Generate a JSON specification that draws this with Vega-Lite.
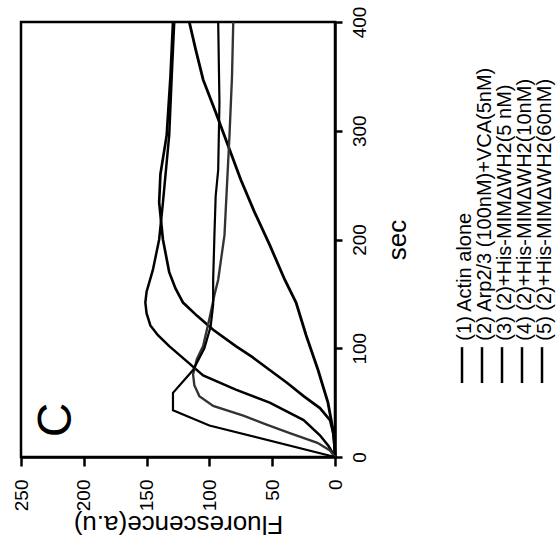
{
  "$schema": "https://vega.github.io/schema/vega-lite/v6.json",
  "padding": {"left": 10, "top": 4, "right": 4, "bottom": 8},
  "spacing": 40,
  "config": {
    "font": "Liberation Sans",
    "axis": {"grid": false, "domainColor": "black", "domainWidth": 2.5, "tickColor": "black", "tickWidth": 2.5, "labelColor": "black", "titleColor": "black", "labelFont": "Liberation Sans", "titleFont": "Liberation Sans", "titleFontWeight": "normal", "labelFontSize": 19, "titleFontSize": 26}
  },
  "datasets": {
    "curves": [
      {"id": 1, "sec": 0, "fl": 0}, {"id": 1, "sec": 10, "fl": 0.3}, {"id": 1, "sec": 25, "fl": 1.6}, {"id": 1, "sec": 50, "fl": 5.6}, {"id": 1, "sec": 80, "fl": 13.5}, {"id": 1, "sec": 112, "fl": 23}, {"id": 1, "sec": 142, "fl": 31}, {"id": 1, "sec": 163, "fl": 40}, {"id": 1, "sec": 195, "fl": 52}, {"id": 1, "sec": 225, "fl": 64}, {"id": 1, "sec": 255, "fl": 75}, {"id": 1, "sec": 286, "fl": 85}, {"id": 1, "sec": 317, "fl": 95}, {"id": 1, "sec": 347, "fl": 105}, {"id": 1, "sec": 375, "fl": 111}, {"id": 1, "sec": 400, "fl": 116},
      {"id": 2, "sec": 0, "fl": 0}, {"id": 2, "sec": 20, "fl": 1}, {"id": 2, "sec": 34, "fl": 4}, {"id": 2, "sec": 45, "fl": 12}, {"id": 2, "sec": 56, "fl": 25}, {"id": 2, "sec": 68, "fl": 38}, {"id": 2, "sec": 80, "fl": 52}, {"id": 2, "sec": 92, "fl": 66}, {"id": 2, "sec": 102, "fl": 79}, {"id": 2, "sec": 117, "fl": 97}, {"id": 2, "sec": 130, "fl": 110}, {"id": 2, "sec": 142, "fl": 121}, {"id": 2, "sec": 155, "fl": 127}, {"id": 2, "sec": 170, "fl": 132}, {"id": 2, "sec": 200, "fl": 137}, {"id": 2, "sec": 234, "fl": 140}, {"id": 2, "sec": 260, "fl": 139}, {"id": 2, "sec": 296, "fl": 134}, {"id": 2, "sec": 350, "fl": 131}, {"id": 2, "sec": 400, "fl": 129},
      {"id": 3, "sec": 0, "fl": 0}, {"id": 3, "sec": 10, "fl": 5}, {"id": 3, "sec": 20, "fl": 12}, {"id": 3, "sec": 34, "fl": 25}, {"id": 3, "sec": 50, "fl": 52}, {"id": 3, "sec": 62, "fl": 79}, {"id": 3, "sec": 75, "fl": 105}, {"id": 3, "sec": 90, "fl": 120}, {"id": 3, "sec": 102, "fl": 132}, {"id": 3, "sec": 112, "fl": 141}, {"id": 3, "sec": 121, "fl": 147}, {"id": 3, "sec": 132, "fl": 150}, {"id": 3, "sec": 142, "fl": 151}, {"id": 3, "sec": 152, "fl": 150}, {"id": 3, "sec": 172, "fl": 145}, {"id": 3, "sec": 200, "fl": 140}, {"id": 3, "sec": 234, "fl": 137}, {"id": 3, "sec": 296, "fl": 132}, {"id": 3, "sec": 350, "fl": 130}, {"id": 3, "sec": 400, "fl": 128},
      {"id": 4, "sec": 0, "fl": 0}, {"id": 4, "sec": 6, "fl": 4}, {"id": 4, "sec": 13, "fl": 14}, {"id": 4, "sec": 22, "fl": 36}, {"id": 4, "sec": 30, "fl": 55}, {"id": 4, "sec": 38, "fl": 73}, {"id": 4, "sec": 47, "fl": 97}, {"id": 4, "sec": 56, "fl": 108}, {"id": 4, "sec": 66, "fl": 112}, {"id": 4, "sec": 76, "fl": 113}, {"id": 4, "sec": 90, "fl": 110}, {"id": 4, "sec": 102, "fl": 105}, {"id": 4, "sec": 127, "fl": 100}, {"id": 4, "sec": 149, "fl": 96}, {"id": 4, "sec": 163, "fl": 93}, {"id": 4, "sec": 204, "fl": 88}, {"id": 4, "sec": 250, "fl": 86}, {"id": 4, "sec": 296, "fl": 84}, {"id": 4, "sec": 350, "fl": 82}, {"id": 4, "sec": 400, "fl": 81},
      {"id": 5, "sec": 0, "fl": 0}, {"id": 5, "sec": 29, "fl": 100}, {"id": 5, "sec": 43, "fl": 129}, {"id": 5, "sec": 59, "fl": 129}, {"id": 5, "sec": 80, "fl": 113}, {"id": 5, "sec": 100, "fl": 104}, {"id": 5, "sec": 120, "fl": 99}, {"id": 5, "sec": 140, "fl": 97}, {"id": 5, "sec": 163, "fl": 97}, {"id": 5, "sec": 204, "fl": 96}, {"id": 5, "sec": 240, "fl": 95}, {"id": 5, "sec": 264, "fl": 93}, {"id": 5, "sec": 326, "fl": 92}, {"id": 5, "sec": 400, "fl": 93}
    ],
    "series": [
      {"id": 1, "label": "(1) Actin alone"},
      {"id": 2, "label": "(2) Arp2/3 (100nM)+VCA(5nM)"},
      {"id": 3, "label": "(3) (2)+His-MIMΔWH2(5 nM)"},
      {"id": 4, "label": "(4) (2)+His-MIMΔWH2(10nM)"},
      {"id": 5, "label": "(5) (2)+His-MIMΔWH2(60nM)"}
    ],
    "panel": [{"tag": "C"}]
  },
  "hconcat": [
    {
      "width": 314,
      "height": 435,
      "view": {"stroke": "black", "strokeWidth": 2.5},
      "layer": [
        {
          "data": {"name": "curves"},
          "mark": {"type": "line", "interpolate": "linear"},
          "encoding": {
            "x": {"field": "fl", "type": "quantitative", "scale": {"domain": [0, 250], "reverse": true, "nice": false},
              "axis": {"orient": "bottom", "values": [0, 50, 100, 150, 200, 250], "labelAngle": -90, "labelAlign": "right", "labelBaseline": "middle", "tickSize": 9, "labelPadding": 13, "title": "Fluorescence(a.u)", "titleAngle": 180, "titleBaseline": "bottom", "titleAlign": "center", "titlePadding": 0}},
            "y": {"field": "sec", "type": "quantitative", "scale": {"domain": [0, 400], "nice": false},
              "axis": {"orient": "right", "values": [0, 100, 200, 300, 400], "labelAngle": -90, "labelAlign": "center", "labelBaseline": "top", "tickSize": 7, "labelPadding": 8, "title": "sec", "titleAngle": -90, "titleBaseline": "top", "titleAlign": "center", "titlePadding": 15}},
            "order": {"field": "sec"},
            "detail": {"field": "id"},
            "color": {"field": "id", "type": "ordinal", "scale": {"domain": [1, 2, 3, 4, 5], "range": ["#000000", "#000000", "#000000", "#333333", "#000000"]}, "legend": null},
            "strokeWidth": {"field": "id", "type": "ordinal", "scale": {"domain": [1, 2, 3, 4, 5], "range": [2.8, 2.2, 2.0, 1.6, 2.4]}, "legend": null}
          }
        },
        {
          "data": {"name": "panel"},
          "mark": {"type": "text", "angle": -90, "fontSize": 48, "font": "Liberation Sans", "color": "black"},
          "encoding": {"x": {"datum": 221, "type": "quantitative"}, "y": {"datum": 34, "type": "quantitative"}, "text": {"field": "tag"}}
        }
      ]
    },
    {
      "width": 100,
      "height": 435,
      "view": {"stroke": null},
      "data": {"name": "series"},
      "encoding": {
        "x": {"field": "id", "type": "ordinal", "scale": {"type": "point", "padding": 0.5}, "axis": null}
      },
      "layer": [
        {
          "mark": {"type": "rule", "color": "black", "strokeWidth": 2.5},
          "encoding": {"y": {"datum": 101, "type": "quantitative", "scale": {"domain": [0, 400], "nice": false}, "axis": null}, "y2": {"datum": 68}}
        },
        {
          "mark": {"type": "text", "angle": -90, "align": "left", "baseline": "middle", "dy": 3, "fontSize": 20, "font": "Liberation Sans", "color": "black"},
          "encoding": {"y": {"datum": 107, "type": "quantitative"}, "text": {"field": "label"}}
        }
      ]
    }
  ]
}
